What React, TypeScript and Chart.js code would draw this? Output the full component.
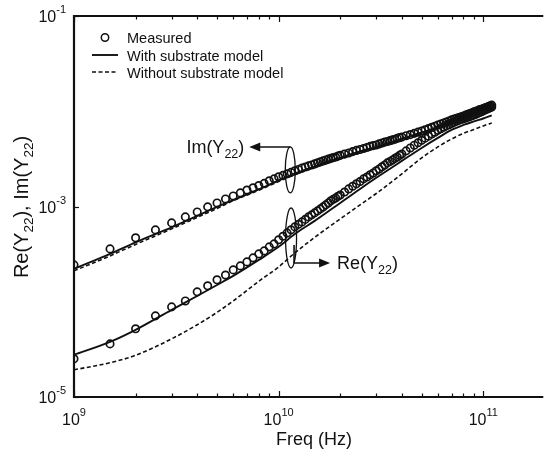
import React, { useEffect, useRef } from 'react';
import { Chart, registerables } from 'chart.js';

Chart.register(...registerables);

const FONT = '"Liberation Sans", Arial, Helvetica, sans-serif';

// ---------- data ----------
const measFreqGHz = [
  1, 1.5, 2, 2.5, 3, 3.5, 4, 4.5, 5, 5.5, 6, 6.5, 7, 7.5, 8, 8.5, 9, 9.5, 10,
  10.5, 11, 11.5, 12, 12.5, 13, 13.5, 14, 14.5, 15, 15.5, 16, 16.5, 17, 17.5, 18, 18.5, 19, 19.5, 20,
  21, 22, 23, 24, 25, 26, 27, 28, 29, 30, 31, 32, 33, 34, 35, 36, 37, 38, 39, 40,
  42, 44, 46, 48, 50, 52, 54, 56, 58, 60, 62, 64, 66, 68, 70, 72, 74, 76, 78, 80,
  82, 84, 86, 88, 90, 92, 94, 96, 98, 100, 102, 104, 106, 108, 110,
];
const imMeasured = [
  2.44e-4, 3.59e-4, 4.69e-4, 5.68e-4, 6.73e-4, 7.78e-4, 8.77e-4, 9.91e-4, 1.09e-3, 1.2e-3,
  1.29e-3, 1.39e-3, 1.49e-3, 1.57e-3, 1.66e-3, 1.75e-3, 1.86e-3, 1.95e-3, 2.05e-3,
  2.12e-3, 2.2e-3, 2.28e-3, 2.37e-3, 2.45e-3, 2.54e-3, 2.6e-3, 2.67e-3, 2.73e-3, 2.8e-3,
  2.87e-3, 2.94e-3, 3.01e-3, 3.08e-3, 3.14e-3, 3.2e-3, 3.26e-3, 3.31e-3, 3.38e-3, 3.44e-3,
  3.55e-3, 3.65e-3, 3.77e-3, 3.88e-3, 3.97e-3, 4.07e-3, 4.17e-3, 4.28e-3, 4.36e-3, 4.43e-3,
  4.54e-3, 4.65e-3, 4.74e-3, 4.82e-3, 4.91e-3, 5.0e-3, 5.09e-3, 5.19e-3, 5.28e-3, 5.37e-3,
  5.54e-3, 5.69e-3, 5.86e-3, 6.03e-3, 6.21e-3, 6.4e-3, 6.58e-3, 6.78e-3, 6.97e-3, 7.18e-3,
  7.36e-3, 7.54e-3, 7.72e-3, 7.91e-3, 8.11e-3, 8.26e-3, 8.42e-3, 8.59e-3, 8.76e-3, 8.93e-3,
  9.1e-3, 9.28e-3, 9.46e-3, 9.64e-3, 9.84e-3, 1.0e-2, 1.02e-2, 1.04e-2, 1.05e-2, 1.07e-2,
  1.09e-2, 1.1e-2, 1.12e-2, 1.14e-2, 1.16e-2,
];
const reMeasured = [
  2.52e-5, 3.61e-5, 5.2e-5, 7.11e-5, 8.83e-5, 1.02e-4, 1.27e-4, 1.47e-4, 1.7e-4, 1.91e-4,
  2.16e-4, 2.38e-4, 2.62e-4, 2.89e-4, 3.18e-4, 3.42e-4, 3.77e-4, 4.05e-4, 4.47e-4,
  4.87e-4, 5.28e-4, 5.69e-4, 6.11e-4, 6.5e-4, 6.89e-4, 7.32e-4, 7.78e-4, 8.17e-4, 8.57e-4,
  8.99e-4, 9.44e-4, 9.9e-4, 1.04e-3, 1.09e-3, 1.15e-3, 1.19e-3, 1.23e-3, 1.28e-3, 1.32e-3,
  1.42e-3, 1.53e-3, 1.63e-3, 1.73e-3, 1.83e-3, 1.95e-3, 2.04e-3, 2.15e-3, 2.25e-3, 2.37e-3,
  2.48e-3, 2.61e-3, 2.73e-3, 2.87e-3, 2.97e-3, 3.08e-3, 3.2e-3, 3.31e-3, 3.44e-3, 3.56e-3,
  3.84e-3, 4.12e-3, 4.4e-3, 4.67e-3, 4.95e-3, 5.22e-3, 5.48e-3, 5.76e-3, 6.03e-3, 6.3e-3,
  6.55e-3, 6.8e-3, 7.02e-3, 7.23e-3, 7.44e-3, 7.64e-3, 7.84e-3, 8.02e-3, 8.18e-3, 8.34e-3,
  8.5e-3, 8.66e-3, 8.82e-3, 8.98e-3, 9.14e-3, 9.32e-3, 9.51e-3, 9.69e-3, 9.88e-3, 1.01e-2,
  1.03e-2, 1.05e-2, 1.07e-2, 1.09e-2, 1.11e-2,
];
const modelFreqGHz = [1, 1.5, 2, 3, 4, 5, 6, 8, 10, 12, 15, 20, 25, 30, 40, 50, 60, 70, 80, 90, 100, 110];
const imWithSub = [
  2.21e-4, 3.18e-4, 4.2e-4, 6.04e-4, 7.96e-4, 9.91e-4, 1.17e-3, 1.51e-3, 1.88e-3, 2.2e-3, 2.64e-3,
  3.24e-3, 3.79e-3, 4.22e-3, 5.12e-3, 6.0e-3, 6.84e-3, 7.73e-3, 8.51e-3, 9.37e-3, 1.02e-2, 1.11e-2,
];
const imWithoutSub = [
  2.11e-4, 3.03e-4, 4.0e-4, 5.82e-4, 7.69e-4, 9.55e-4, 1.15e-3, 1.48e-3, 1.83e-3, 2.15e-3, 2.57e-3,
  3.16e-3, 3.7e-3, 4.12e-3, 5.0e-3, 5.85e-3, 6.68e-3, 7.54e-3, 8.3e-3, 9.14e-3, 9.95e-3, 1.08e-2,
];
const reWithSub = [
  2.77e-5, 3.79e-5, 5.07e-5, 8.22e-5, 1.15e-4, 1.5e-4, 1.87e-4, 2.75e-4, 3.77e-4, 5.15e-4, 7.06e-4,
  1.09e-3, 1.53e-3, 2.0e-3, 3.01e-3, 4.12e-3, 5.25e-3, 6.37e-3, 7.18e-3, 7.82e-3, 8.39e-3, 9.04e-3,
];
const reWithoutSub = [
  1.93e-5, 2.29e-5, 2.74e-5, 4.08e-5, 5.73e-5, 7.74e-5, 1.02e-4, 1.64e-4, 2.32e-4, 3.26e-4, 4.74e-4,
  7.41e-4, 1.04e-3, 1.37e-3, 2.2e-3, 3.24e-3, 4.22e-3, 5.12e-3, 5.85e-3, 6.44e-3, 7.01e-3, 7.54e-3,
];

const xTickExps = [9, 10, 11];
const yTickExps = [-1, -3, -5];
const legendLabels = ['Measured', 'With substrate model', 'Without substrate model'];
const xTitle = 'Freq (Hz)';
const X_MIN = 1e9;
const X_MAX = 1.9e11;
const Y_MIN = 1e-5;
const Y_MAX = 1e-1;
// annotation anchors (data coordinates of the small ellipses)
const imAnchor = { x: 1.14e10, y: 2.42e-3 };
const reAnchor = { x: 1.15e10, y: 4.67e-4 };

const pts = (fs: number[], vs: number[]) => fs.map((f, i) => ({ x: f * 1e9, y: vs[i] }));

type Run = { t: string; sub?: boolean; sup?: boolean };

function runsWidth(ctx: CanvasRenderingContext2D, runs: Run[], size: number, small: number) {
  let w = 0;
  for (const r of runs) {
    ctx.font = `${r.sub || r.sup ? small : size}px ${FONT}`;
    w += ctx.measureText(r.t).width;
  }
  return w;
}

function drawRuns(
  ctx: CanvasRenderingContext2D,
  runs: Run[],
  x: number,
  y: number,
  size: number,
  small: number,
  subOff: number,
  supOff: number
) {
  let cx = x;
  ctx.textAlign = 'left';
  ctx.textBaseline = 'alphabetic';
  for (const r of runs) {
    ctx.font = `${r.sub || r.sup ? small : size}px ${FONT}`;
    const dy = r.sub ? subOff : r.sup ? -supOff : 0;
    ctx.fillText(r.t, cx, y + dy);
    cx += ctx.measureText(r.t).width;
  }
}

function arrowHead(ctx: CanvasRenderingContext2D, tx: number, ty: number, dir: number) {
  ctx.beginPath();
  ctx.moveTo(tx, ty);
  ctx.lineTo(tx - dir * 11, ty - 4.5);
  ctx.lineTo(tx - dir * 11, ty + 4.5);
  ctx.closePath();
  ctx.fill();
}

const decorPlugin = {
  id: 'decor',
  beforeDatasetsDraw(chart: any) {
    const { ctx, chartArea: a, scales } = chart;
    const xs = scales.x;
    const ys = scales.y;
    ctx.save();
    ctx.strokeStyle = '#111';
    ctx.lineWidth = 1.2;
    for (let e = 9; e <= 11; e++) {
      for (let m = 1; m <= 9; m++) {
        const v = m * Math.pow(10, e);
        if (v > X_MAX) break;
        const px = Math.round(xs.getPixelForValue(v)) + 0.5;
        const len = m === 1 ? 6 : 3.5;
        ctx.beginPath();
        ctx.moveTo(px, a.bottom);
        ctx.lineTo(px, a.bottom - len);
        ctx.moveTo(px, a.top);
        ctx.lineTo(px, a.top + len);
        ctx.stroke();
      }
    }
    for (const e of yTickExps) {
      const py = Math.round(ys.getPixelForValue(Math.pow(10, e))) + 0.5;
      ctx.beginPath();
      ctx.moveTo(a.left, py);
      ctx.lineTo(a.left + 5, py);
      ctx.stroke();
    }
    ctx.lineWidth = 2.2;
    ctx.beginPath();
    ctx.moveTo(a.right + 3, a.top);
    ctx.lineTo(a.left, a.top);
    ctx.lineTo(a.left, a.bottom);
    ctx.lineTo(a.right + 3, a.bottom);
    ctx.stroke();
    ctx.restore();
  },
  afterDatasetsDraw(chart: any) {
    const { ctx, chartArea: a, scales } = chart;
    const xs = scales.x;
    const ys = scales.y;
    ctx.save();
    ctx.fillStyle = '#111';
    ctx.strokeStyle = '#111';

    for (const e of xTickExps) {
      const px = xs.getPixelForValue(Math.pow(10, e));
      const runs: Run[] = [{ t: '10' }, { t: String(e), sup: true }];
      const w = runsWidth(ctx, runs, 16, 11);
      drawRuns(ctx, runs, px - w / 2, a.bottom + 28, 16, 11, 0, 9);
    }
    for (const e of yTickExps) {
      const py = ys.getPixelForValue(Math.pow(10, e));
      const runs: Run[] = [{ t: '10' }, { t: String(e), sup: true }];
      const w = runsWidth(ctx, runs, 16, 11);
      drawRuns(ctx, runs, a.left - 8 - w, py + 6, 16, 11, 0, 9);
    }

    ctx.font = `18px ${FONT}`;
    ctx.textAlign = 'center';
    ctx.textBaseline = 'alphabetic';
    ctx.fillText(xTitle, 314, 445);

    {
      const runs: Run[] = [
        { t: 'Re(Y' }, { t: '22', sub: true }, { t: '), Im(Y' }, { t: '22', sub: true }, { t: ')' },
      ];
      const w = runsWidth(ctx, runs, 20, 13.5);
      ctx.save();
      ctx.translate(28, 207);
      ctx.rotate(-Math.PI / 2);
      drawRuns(ctx, runs, -w / 2, 0, 20, 13.5, 5, 0);
      ctx.restore();
    }

    {
      const lx0 = a.left + 18;
      const lx1 = a.left + 44;
      const tx = a.left + 53;
      const rows = [a.top + 21.5, a.top + 39, a.top + 56];
      ctx.lineWidth = 1.5;
      ctx.beginPath();
      ctx.arc((lx0 + lx1) / 2, rows[0], 3.7, 0, Math.PI * 2);
      ctx.stroke();
      ctx.lineWidth = 1.9;
      ctx.beginPath();
      ctx.moveTo(lx0, rows[1]);
      ctx.lineTo(lx1, rows[1]);
      ctx.stroke();
      ctx.setLineDash([4, 2.5]);
      ctx.lineWidth = 1.6;
      ctx.beginPath();
      ctx.moveTo(lx0, rows[2]);
      ctx.lineTo(lx1, rows[2]);
      ctx.stroke();
      ctx.setLineDash([]);
      ctx.font = `14.5px ${FONT}`;
      ctx.textAlign = 'left';
      ctx.textBaseline = 'alphabetic';
      legendLabels.forEach((lab, i) => ctx.fillText(lab, tx, rows[i] + 5.5));
    }

    {
      const cx = xs.getPixelForValue(imAnchor.x);
      const cy = ys.getPixelForValue(imAnchor.y);
      const ry = 23;
      ctx.lineWidth = 1.3;
      ctx.beginPath();
      ctx.ellipse(cx, cy, 5, ry, 0, 0, Math.PI * 2);
      ctx.stroke();
      const ay = cy - ry;
      const tip = cx - 41;
      ctx.lineWidth = 1.6;
      ctx.beginPath();
      ctx.moveTo(cx, ay);
      ctx.lineTo(tip + 6, ay);
      ctx.stroke();
      arrowHead(ctx, tip, ay, -1);
      const runs: Run[] = [{ t: 'Im(Y' }, { t: '22', sub: true }, { t: ')' }];
      const w = runsWidth(ctx, runs, 18, 12.5);
      drawRuns(ctx, runs, tip - 5 - w, ay + 6, 18, 12.5, 5, 0);
    }
    {
      const cx = xs.getPixelForValue(reAnchor.x);
      const cy = ys.getPixelForValue(reAnchor.y);
      const ry = 30;
      ctx.lineWidth = 1.3;
      ctx.beginPath();
      ctx.ellipse(cx, cy, 5.5, ry, 0, 0, Math.PI * 2);
      ctx.stroke();
      const lx = cx + 3;
      const ay = cy + 25;
      const tip = cx + 39;
      ctx.lineWidth = 1.6;
      ctx.beginPath();
      ctx.moveTo(lx, cy + 7);
      ctx.lineTo(lx, ay);
      ctx.lineTo(tip - 6, ay);
      ctx.stroke();
      arrowHead(ctx, tip, ay, 1);
      const runs: Run[] = [{ t: 'Re(Y' }, { t: '22', sub: true }, { t: ')' }];
      drawRuns(ctx, runs, tip + 7, ay + 6, 18, 12.5, 5, 0);
    }
    ctx.restore();
  },
};

export default function App() {
  const ref = useRef<HTMLCanvasElement>(null);
  useEffect(() => {
    const canvas = ref.current;
    if (!canvas) return;
    const circle = {
      showLine: false,
      pointStyle: 'circle' as const,
      pointRadius: 3.7,
      pointBorderWidth: 1.7,
      pointBorderColor: '#111',
      pointBackgroundColor: 'rgba(0,0,0,0)',
    };
    const solid = {
      showLine: true,
      pointRadius: 0,
      borderColor: '#111',
      borderWidth: 1.9,
      cubicInterpolationMode: 'monotone' as const,
    };
    const dashed = { ...solid, borderWidth: 1.6, borderDash: [4, 2.5] };
    const chart = new Chart(canvas, {
      type: 'scatter',
      data: {
        datasets: [
          { label: 'Im measured', data: pts(measFreqGHz, imMeasured), ...circle },
          { label: 'Re measured', data: pts(measFreqGHz, reMeasured), ...circle },
          { label: 'Im with substrate', data: pts(modelFreqGHz, imWithSub), ...solid },
          { label: 'Re with substrate', data: pts(modelFreqGHz, reWithSub), ...solid },
          { label: 'Im without substrate', data: pts(modelFreqGHz, imWithoutSub), ...dashed },
          { label: 'Re without substrate', data: pts(modelFreqGHz, reWithoutSub), ...dashed },
        ],
      },
      options: {
        animation: false,
        responsive: false,
        devicePixelRatio: 1,
        events: [],
        layout: { padding: { left: 74, top: 16, right: 0, bottom: 55 } },
        scales: {
          x: { type: 'logarithmic', min: X_MIN, max: X_MAX, display: false },
          y: { type: 'logarithmic', min: Y_MIN, max: Y_MAX, display: false },
        },
        plugins: { legend: { display: false }, tooltip: { enabled: false } },
      },
      plugins: [decorPlugin],
    } as any);
    return () => chart.destroy();
  }, []);
  return (
    <div style={{ position: 'fixed', left: 0, top: 0, width: 546, height: 452, background: '#fff' }}>
      <canvas ref={ref} width={546} height={452} style={{ display: 'block', width: 546, height: 452 }} />
    </div>
  );
}
